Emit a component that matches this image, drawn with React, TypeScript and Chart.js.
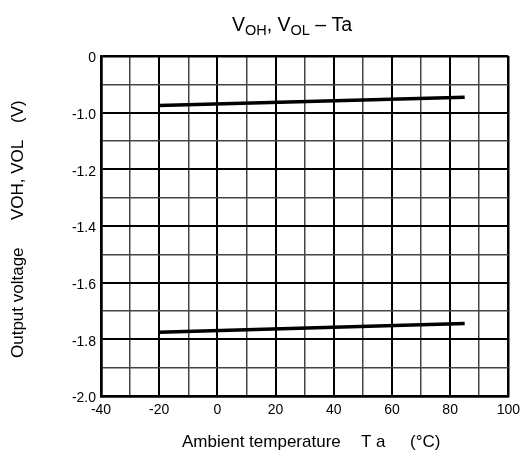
import React, { useEffect, useRef } from "react";
import { Chart, registerables } from "chart.js";

Chart.register(...registerables);

// Data
const tempPoints = [-20, 85];
const vohValues = [-0.975, -0.946];
const volValues = [-1.775, -1.744];

// Tick labels
const xLabelValues = [-40, -20, 0, 20, 40, 60, 80, 100];
const xLabelTexts = ["-40", "-20", "0", "20", "40", "60", "80", "100"];
const yLabelValues = [-2.0, -1.8, -1.6, -1.4, -1.2, -1.0, -0.8];
const yLabelTexts = ["-2.0", "-1.8", "-1.6", "-1.4", "-1.2", "-1.0", "0"];

const FONT = "'Liberation Sans', Arial, Helvetica, sans-serif";

function findLabel(values: number[], texts: string[], v: number): string {
  const i = values.findIndex((x) => Math.abs(x - v) < 1e-6);
  return i >= 0 ? texts[i] : "";
}

const textPlugin = {
  id: "customTexts",
  afterDraw(chart: any) {
    const ctx = chart.ctx as CanvasRenderingContext2D;
    ctx.save();
    ctx.fillStyle = "#000";
    ctx.textBaseline = "alphabetic";
    ctx.textAlign = "left";

    // Main title with subscripts
    const segs = [
      { t: "V", f: 19.5, dy: 0 },
      { t: "OH", f: 14.5, dy: 4 },
      { t: ", V", f: 19.5, dy: 0 },
      { t: "OL", f: 14.5, dy: 4 },
      { t: " \u2013 Ta", f: 19.5, dy: 0 },
    ];
    let total = 0;
    for (const s of segs) {
      ctx.font = `${s.f}px ${FONT}`;
      total += ctx.measureText(s.t).width;
    }
    let x = 292 - total / 2;
    for (const s of segs) {
      ctx.font = `${s.f}px ${FONT}`;
      ctx.fillText(s.t, x, 31 + s.dy);
      x += ctx.measureText(s.t).width;
    }

    // X axis title
    ctx.font = `17px ${FONT}`;
    ctx.fillText("Ambient temperature", 182, 447);
    ctx.fillText("T a", 361, 447);
    ctx.fillText("(\u00B0C)", 410, 447);

    // Y axis title (rotated)
    ctx.save();
    ctx.translate(23, 0);
    ctx.rotate(-Math.PI / 2);
    ctx.font = `17px ${FONT}`;
    ctx.fillText("Output voltage", -358, 0);
    ctx.fillText("VOH, VOL", -220, 0);
    ctx.fillText("(V)", -123, 0);
    ctx.restore();

    ctx.restore();
  },
};

export default function App() {
  const canvasRef = useRef<HTMLCanvasElement | null>(null);

  useEffect(() => {
    const canvas = canvasRef.current;
    if (!canvas) return;

    const xGridWidth = (c: any) => {
      const v = Math.round(c.tick?.value ?? 0);
      if (v === -40 || v === 100) return 2.5;
      return v % 20 === 0 ? 2 : 1.5;
    };
    const xGridColor = (c: any) => {
      const v = Math.round(c.tick?.value ?? 0);
      return v % 20 === 0 ? "#000" : "#444";
    };
    const yGridWidth = (c: any) => {
      const v = Math.round((c.tick?.value ?? 0) * 10);
      if (v === -20 || v === -8) return 2.5;
      return v % 2 === 0 ? 2 : 1.5;
    };
    const yGridColor = (c: any) => {
      const v = Math.round((c.tick?.value ?? 0) * 10);
      return v % 2 === 0 ? "#000" : "#444";
    };

    const chart = new Chart(canvas, {
      type: "scatter",
      data: {
        datasets: [
          {
            label: "VOH",
            data: tempPoints.map((t, i) => ({ x: t, y: vohValues[i] })),
            showLine: true,
            borderColor: "#000",
            backgroundColor: "#000",
            borderWidth: 3.5,
            pointRadius: 0,
            borderCapStyle: "butt",
          },
          {
            label: "VOL",
            data: tempPoints.map((t, i) => ({ x: t, y: volValues[i] })),
            showLine: true,
            borderColor: "#000",
            backgroundColor: "#000",
            borderWidth: 3.5,
            pointRadius: 0,
            borderCapStyle: "butt",
          },
        ],
      },
      options: {
        responsive: false,
        animation: false,
        devicePixelRatio: 1,
        layout: { padding: { left: 0, top: 56, right: 15, bottom: 0 } },
        plugins: {
          legend: { display: false },
          tooltip: { enabled: false },
          title: { display: false },
        },
        scales: {
          x: {
            type: "linear",
            min: -40,
            max: 100,
            afterFit: (scale: any) => {
              scale.height = 61;
            },
            ticks: {
              stepSize: 10,
              autoSkip: false,
              maxRotation: 0,
              color: "#000",
              padding: 6,
              font: { family: FONT, size: 14 },
              callback: (value: any) => findLabel(xLabelValues, xLabelTexts, Number(value)),
            },
            grid: {
              drawTicks: false,
              color: xGridColor,
              lineWidth: xGridWidth,
            },
            border: { display: true, color: "#000", width: 2.5 },
          },
          y: {
            type: "linear",
            min: -2.0,
            max: -0.8,
            afterFit: (scale: any) => {
              scale.width = 101;
            },
            ticks: {
              stepSize: 0.1,
              autoSkip: false,
              color: "#000",
              padding: 5,
              labelOffset: 2.5,
              font: { family: FONT, size: 14 },
              callback: (value: any) => findLabel(yLabelValues, yLabelTexts, Number(value)),
            },
            grid: {
              drawTicks: false,
              color: yGridColor,
              lineWidth: yGridWidth,
            },
            border: { display: true, color: "#000", width: 2.5 },
          },
        },
      },
      plugins: [textPlugin],
    } as any);

    return () => {
      chart.destroy();
    };
  }, []);

  return (
    <div style={{ position: "fixed", left: 0, top: 0, width: 526, height: 457, background: "#fff" }}>
      <canvas ref={canvasRef} width={526} height={457} style={{ display: "block" }} />
    </div>
  );
}
